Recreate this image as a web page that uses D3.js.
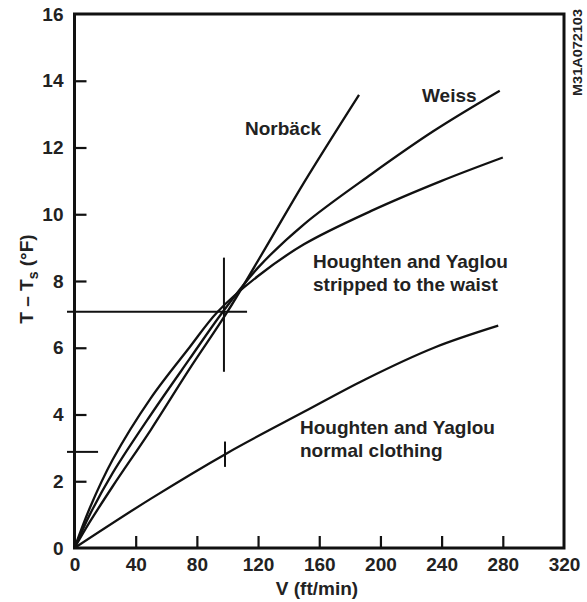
<!DOCTYPE html>
<html>
<head>
<meta charset="utf-8">
<script src="https://cdn.jsdelivr.net/npm/d3@7"></script>
<style>
  body { margin:0; background:#fff; }
  svg text { font-family:'Liberation Sans', Arial, sans-serif; font-weight:bold; fill:#222; }
</style>
</head>
<body>
<div class="chart"></div>
<script>
// axis ticks
const vTicks = [0,40,80,120,160,200,240,280,320];
const tTicks = [0,2,4,6,8,10,12,14,16];

// curves: V (ft/min) and T - Ts (F)
const norbackV = [0,10,25,50,75,100,125,150,186];
const norbackT = [0,0.78,1.85,3.55,5.35,7.08,9.0,10.95,13.58];

const weissV = [0,10,25,50,75,97,120,150,194,235,278];
const weissT = [0,1.0,2.25,4.0,5.65,7.08,8.4,9.7,11.2,12.5,13.7];

const strippedV = [0,10,25,50,75,93.6,120,150,194,240,280];
const strippedT = [0,1.2,2.65,4.5,6.0,7.08,8.15,9.1,10.1,11.0,11.7];

const normalV = [0,50,100,150,190,235,277];
const normalT = [0,1.48,2.85,4.08,5.05,6.0,6.66];

// reference marks drawn on the figure
const crossH = {t:7.08, v0:-4.9, v1:112.8};
const crossV = {v:97.7, t0:5.28, t1:8.7};
const markT = {t:2.88, v0:-4.9, v1:15.4};
const markNormal = {v:98.4, t0:2.43, t1:3.19};

const labels = [
  {lines:['Norbäck'], x:245, y:135},
  {lines:['Weiss'], x:422, y:102},
  {lines:['Houghten and Yaglou','stripped to the waist'], x:313, y:268},
  {lines:['Houghten and Yaglou','normal clothing'], x:300, y:434}
];

const svgW = 587, svgH = 602;
const plotL = 74.5, plotR = 564, plotT = 14, plotB = 548;

const svg = d3.select('.chart').append('svg').attr('width',svgW).attr('height',svgH);

const x = d3.scaleLinear([0,320],[plotL,plotR]);
const y = d3.scaleLinear([0,16],[plotB,plotT]);

// axes with inward ticks
const yAxis = d3.axisLeft(y).tickValues(tTicks).tickSize(-12).tickPadding(11);
const xAxis = d3.axisBottom(x).tickValues(vTicks).tickSize(-12).tickPadding(10);

const gy = svg.append('g').attr('transform',`translate(${plotL},0)`).call(yAxis);
const gx = svg.append('g').attr('transform',`translate(0,${plotB})`).call(xAxis);
[gy,gx].forEach(g=>{
  g.select('.domain').remove();
  g.selectAll('line').attr('stroke','#111').attr('stroke-width',2.2);
  g.selectAll('text').style('font-size','19px').attr('fill','#222');
});
gy.selectAll('.tick').filter(d=>d==0||d==16).select('line').remove();
gx.selectAll('.tick').filter(d=>d==0||d==320).select('line').remove();

// frame
svg.append('rect').attr('x',plotL).attr('y',plotT)
  .attr('width',plotR-plotL).attr('height',plotB-plotT)
  .attr('fill','none').attr('stroke','#111').attr('stroke-width',3);

// curves
const line = d3.line().x(d=>x(d[0])).y(d=>y(d[1])).curve(d3.curveCatmullRom.alpha(0.5));
const series = [
  [norbackV,norbackT],
  [weissV,weissT],
  [strippedV,strippedT],
  [normalV,normalT]
];
svg.append('g').selectAll('path').data(series).join('path')
  .attr('d',s=>line(s[0].map((v,i)=>[v,s[1][i]])))
  .attr('fill','none').attr('stroke','#111').attr('stroke-width',2.3);

// marks
const marks = svg.append('g').attr('stroke','#111').attr('stroke-width',2);
marks.append('line').attr('x1',x(crossH.v0)).attr('x2',x(crossH.v1)).attr('y1',y(crossH.t)).attr('y2',y(crossH.t));
marks.append('line').attr('x1',x(crossV.v)).attr('x2',x(crossV.v)).attr('y1',y(crossV.t0)).attr('y2',y(crossV.t1));
marks.append('line').attr('x1',x(markT.v0)).attr('x2',x(markT.v1)).attr('y1',y(markT.t)).attr('y2',y(markT.t));
marks.append('line').attr('x1',x(markNormal.v)).attr('x2',x(markNormal.v)).attr('y1',y(markNormal.t0)).attr('y2',y(markNormal.t1));

// curve labels
labels.forEach(l=>{
  const t = svg.append('text').attr('x',l.x).attr('y',l.y).style('font-size','19px');
  l.lines.forEach((s,i)=>t.append('tspan').attr('x',l.x).attr('dy',i?23:0).text(s));
});

// axis titles
svg.append('text').attr('x',317).attr('y',595).attr('text-anchor','middle')
  .style('font-size','19px').text('V (ft/min)');

const yt = svg.append('text').attr('transform','translate(33,279) rotate(-90)')
  .attr('text-anchor','middle').style('font-size','19px');
yt.append('tspan').text('T – T');
yt.append('tspan').attr('dy',5).style('font-size','14px').text('s');
yt.append('tspan').attr('dy',-5).text(' (°F)');

// figure id
svg.append('text').attr('transform','translate(582,96) rotate(-90)')
  .attr('textLength',87).attr('lengthAdjust','spacingAndGlyphs')
  .style('font-size','12px').text('M31A072103');
</script>
</body>
</html>
